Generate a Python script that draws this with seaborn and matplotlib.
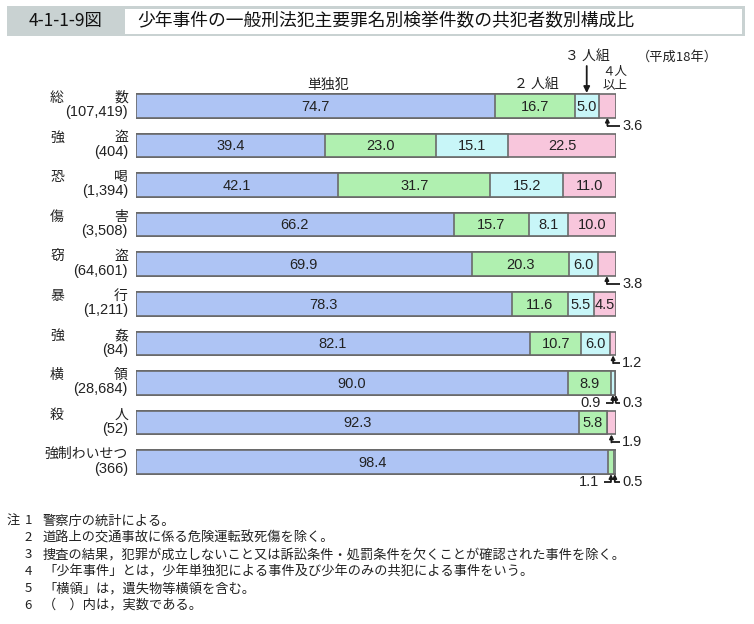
import numpy as np
import pandas as pd
import matplotlib
matplotlib.use("Agg")
import matplotlib.pyplot as plt
from matplotlib.patches import Rectangle
import seaborn as sns

# ---- data ----
categories = ["総数", "強盗", "恐喝", "傷害", "窃盗", "暴行", "強姦", "横領", "殺人", "強制わいせつ"]
counts = ["(107,419)", "(404)", "(1,394)", "(3,508)", "(64,601)", "(1,211)", "(84)", "(28,684)", "(52)", "(366)"]
solo = [74.7, 39.4, 42.1, 66.2, 69.9, 78.3, 82.1, 90.0, 92.3, 98.4]
two = [16.7, 23.0, 31.7, 15.7, 20.3, 11.6, 10.7, 8.9, 5.8, 1.1]
three = [5.0, 15.1, 15.2, 8.1, 6.0, 5.5, 6.0, 0.9, 0.0, 0.5]
four = [3.6, 22.5, 11.0, 10.0, 3.8, 4.5, 1.2, 0.3, 1.9, 0.0]
series_names = ["単独犯", "２ 人組", "３ 人組", "４人", "以上"]
notes = [
    ("注", "1", "警察庁の統計による。"),
    ("", "2", "道路上の交通事故に係る危険運転致死傷を除く。"),
    ("", "3", "捜査の結果，犯罪が成立しないこと又は訴訟条件・処罰条件を欠くことが確認された事件を除く。"),
    ("", "4", "「少年事件」とは，少年単独犯による事件及び少年のみの共犯による事件をいう。"),
    ("", "5", "「横領」は，遺失物等横領を含む。"),
    ("", "6", "（　）内は，実数である。"),
]

colors = ["#aec4f4", "#b0f0b0", "#c8f6f8", "#f8c6dc"]
edge = "#6a6a6a"

sns.set_theme(style="white")
plt.rcParams["font.family"] = ["Liberation Sans", "Noto Sans CJK JP", "DejaVu Sans"]
JP = ["Noto Sans CJK JP", "DejaVu Sans"]

W, H = 754, 624
fig = plt.figure(figsize=(W / 100, H / 100), dpi=100)
ax_left, ax_right, ax_top, ax_bot = 136, 616, 86, 482
ax = fig.add_axes([ax_left / W, 1 - ax_bot / H, (ax_right - ax_left) / W, (ax_bot - ax_top) / H])

df = pd.DataFrame({"cat": categories, "solo": solo, "two": two, "three": three, "four": four})
df["c1"] = df["solo"]
df["c2"] = df["c1"] + df["two"]
df["c3"] = df["c2"] + df["three"]
df["c4"] = df["c3"] + df["four"]

for col, colr in zip(["c4", "c3", "c2", "c1"], colors[::-1]):
    sns.barplot(data=df, x=col, y="cat", orient="h", color=colr, saturation=1,
                edgecolor=edge, linewidth=1.2, width=0.6, errorbar=None, ax=ax)

ax.set_xlim(0, 100)
ax.set_ylim(len(categories) - 0.5, -0.5)
ax.axis("off")

def px2x(px):
    return (px - ax_left) / ((ax_right - ax_left) / 100.0)

def py2y(py):
    return (py - ax_top) / ((ax_bot - ax_top) / len(categories)) - 0.5

txtc = "#222222"
# inside labels
inside = {
    0: [0, 1, 2], 1: [0, 1, 2, 3], 2: [0, 1, 2, 3], 3: [0, 1, 2, 3], 4: [0, 1, 2],
    5: [0, 1, 2, 3], 6: [0, 1, 2], 7: [0, 1], 8: [0, 1], 9: [0],
}
vals = [solo, two, three, four]
for i in range(len(categories)):
    starts = [0, df["c1"][i], df["c2"][i], df["c3"][i]]
    for s in inside[i]:
        v = vals[s][i]
        ax.text(starts[s] + v / 2, i + 0.02, f"{v:.1f}", ha="center", va="center",
                fontsize=10.5, color=txtc)

# outside callouts
def callout(row, seg, side, label):
    starts = [0, df["c1"][row], df["c2"][row], df["c3"][row]]
    xc = starts[seg] + vals[seg][row] / 2
    yb = row + 0.3
    ye = row + 0.5
    ax.annotate("", xy=(xc, yb), xytext=(xc, ye),
                arrowprops=dict(arrowstyle="-|>", color="k", lw=1.3, mutation_scale=5.5,
                                shrinkA=0, shrinkB=0), annotation_clip=False)
    if side == "r":
        ax.plot([xc, px2x(620)], [ye, ye], color="k", lw=1.3, clip_on=False, solid_capstyle="butt")
        ax.text(px2x(622), ye, label, ha="left", va="center", fontsize=10.5, color=txtc)
    else:
        xe = xc - px2x(ax_left + 7)
        ax.plot([xc, xe], [ye, ye], color="k", lw=1.3, clip_on=False, solid_capstyle="butt")
        ax.text(xe - px2x(ax_left + 5), ye, label, ha="right", va="center", fontsize=10.5, color=txtc)

callout(0, 3, "r", "3.6")
callout(4, 3, "r", "3.8")
callout(6, 3, "r", "1.2")
callout(7, 2, "l", "0.9")
callout(7, 3, "r", "0.3")
callout(8, 3, "r", "1.9")
callout(9, 1, "l", "1.1")
callout(9, 2, "r", "0.5")

# category labels
xl, xr = px2x(50), px2x(128)
for i, (c, n) in enumerate(zip(categories, counts)):
    if len(c) == 2:
        ax.text(xl, i - 0.2, c[0], ha="left", va="center", fontsize=10, family=JP, color=txtc)
        ax.text(xr, i - 0.2, c[1], ha="right", va="center", fontsize=10, family=JP, color=txtc)
    else:
        ax.text(xr, i - 0.2, c, ha="right", va="center", fontsize=10, family=JP, color=txtc)
    ax.text(xr, i + 0.16, n, ha="right", va="center", fontsize=10.5, color=txtc)

# series headers
ax.text(px2x(328), py2y(85), series_names[0], ha="center", va="center", fontsize=10, family=JP, color=txtc)
ax.text(px2x(536), py2y(85), series_names[1], ha="center", va="center", fontsize=10, family=JP, color=txtc)
ax.text(px2x(587), py2y(57), series_names[2], ha="center", va="center", fontsize=10, family=JP, color=txtc)
x3 = (df["c2"][0] + df["c3"][0]) / 2
ax.annotate("", xy=(x3, py2y(93)), xytext=(x3, py2y(66)),
            arrowprops=dict(arrowstyle="-|>", color="k", lw=1.3, mutation_scale=9,
                            shrinkA=0, shrinkB=0), annotation_clip=False)
ax.text(px2x(615), py2y(72), series_names[3], ha="center", va="center", fontsize=9, family=JP,
        color=txtc, linespacing=0.9)
ax.text(px2x(615), py2y(85), series_names[4], ha="center", va="center", fontsize=9, family=JP, color=txtc)
ax.text(px2x(677), py2y(57), "（平成18年）", ha="center", va="center", fontsize=9.5, family=JP, color=txtc)

# title band
def fx(px):
    return px / W

def fy(py):
    return 1 - py / H

fig.patches.append(Rectangle((fx(7), fy(36)), fx(745) - fx(7), fy(6) - fy(36),
                             transform=fig.transFigure, facecolor="#c9d2d2", edgecolor="none", zorder=0))
fig.patches.append(Rectangle((fx(125), fy(34)), fx(742) - fx(125), fy(9) - fy(34),
                             transform=fig.transFigure, facecolor="white", edgecolor="none", zorder=1))
fig.text(fx(66), fy(21), "4-1-1-9図", ha="center", va="center", fontsize=12.5, family=JP, color="#111111")
fig.text(fx(137), fy(21), "少年事件の一般刑法犯主要罪名別検挙件数の共犯者数別構成比",
         ha="left", va="center", fontsize=12.8, family=JP, color="#111111")

# notes
for k, (a, b, t) in enumerate(notes):
    y = fy(521 + k * 16.9)
    if a:
        fig.text(fx(7), y, a, ha="left", va="center", fontsize=9.5, family=JP, color=txtc)
    fig.text(fx(28), y, b, ha="center", va="center", fontsize=9.5, family=JP, color=txtc)
    fig.text(fx(43), y, t, ha="left", va="center", fontsize=9.5, family=JP, color=txtc)

fig.savefig("out.png", dpi=100)
